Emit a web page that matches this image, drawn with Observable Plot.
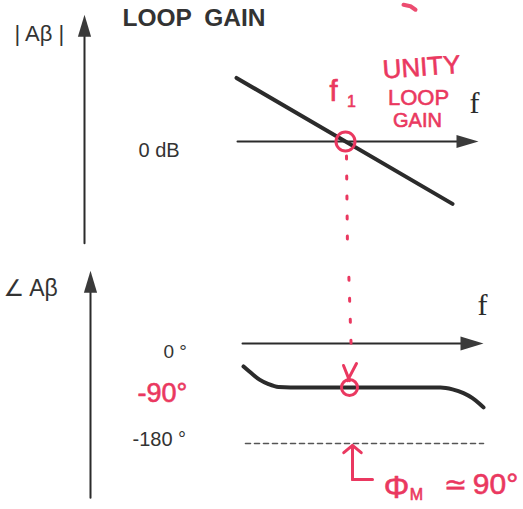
<!DOCTYPE html>
<html>
<head>
<meta charset="utf-8">
<script src="https://cdn.jsdelivr.net/npm/d3@7"></script>
<script src="https://cdn.jsdelivr.net/npm/@observablehq/plot@0.6"></script>
<style>
  html, body { margin: 0; padding: 0; background: #fff; }
  #chart { width: 523px; line-height: 0; }
  #chart svg { display: block; }
</style>
</head>
<body>
<div id="chart"></div>
<script>
// Frequency is expressed in decades relative to the unity-gain frequency f1: x = log10(f / f1)

// Loop-gain magnitude asymptote (-20 dB/decade through 0 dB at f1)
const magDecade = [-1.09, 1.07];
const magDb = [21.8, -21.4];

// Loop-gain phase (degrees)
const phaseDecade = [-1.02, -0.94, -0.86, -0.77, -0.67, -0.55, 0, 0.55, 0.95, 1.07, 1.18, 1.27, 1.34, 1.38];
const phaseDeg = [-47, -61, -74, -83, -89, -90, -90, -90, -90, -93, -99, -107, -116, -122];

// Axis extents
const gainAxisX = -2.61;           // |Aβ| axis position (decades)
const gainAxisDb = [-34.9, 43.5];   // bottom, arrow tip
const gainFreqAxis = [-1.08, 1.33]; // f axis at 0 dB
const phaseAxisX = -2.55;
const phaseAxisDeg = [-267, 149];
const phaseFreqAxis = [-1.03, 1.38];
const limitLine = [-1.0, 1.38];     // -180° reference

// Tick labels
const gainTickLabel = "0 dB";
const phaseTicks = [0, -90, -180];
const phaseTickLabels = ["0 °", "-90°", "-180 °"];

// Unity-gain crossing and phase margin
const f1Decade = 0;
const f1Phase = -90;
const phaseMargin = 180 + f1Phase;

const ink = "#2b2b2b";
const pen = "#ea3860";
const sans = "Liberation Sans, Arial, DejaVu Sans, sans-serif";
const serif = "Liberation Serif, Times New Roman, serif";
const marker = "Liberation Sans, DejaVu Sans, sans-serif";

// Filled arrowhead, tip at the origin, pointing up (rotate for other directions)
const arrowHead = {
  draw(ctx, size) {
    const r = Math.sqrt(size / Math.PI);
    ctx.moveTo(0, 0);
    ctx.lineTo(r * 0.6, r * 2);
    ctx.lineTo(-r * 0.6, r * 2);
    ctx.closePath();
  }
};

const xScale = {type: "linear", domain: [0, 1], range: [345, 445], axis: null};
const label = (x, y, t, o = {}) =>
  Plot.text([{x, y, t}], {x: "x", y: "y", text: "t", ...o});

// ---- Magnitude panel ----
const gainPlot = Plot.plot({
  width: 523,
  height: 250,
  margin: 0,
  x: xScale,
  y: {type: "linear", domain: [0, 20], range: [141, 82.7], axis: null},
  style: {background: "white"},
  marks: [
    Plot.line([[gainAxisX, gainAxisDb[0]], [gainAxisX, gainAxisDb[1] - 5]], {stroke: ink, strokeWidth: 2}),
    Plot.dot([[gainAxisX, gainAxisDb[1]]], {symbol: arrowHead, r: 11, fill: "#3a3a3a", stroke: "none"}),
    Plot.line([[gainFreqAxis[0], 0], [gainFreqAxis[1] - 0.1, 0]], {stroke: ink, strokeWidth: 2}),
    Plot.dot([[gainFreqAxis[1], 0]], {symbol: arrowHead, r: 11, rotate: 90, fill: "#3a3a3a", stroke: "none"}),
    Plot.line(magDecade.map((x, i) => [x, magDb[i]]), {stroke: ink, strokeWidth: 4}),
    // unity-gain marker and drop line
    Plot.line([[f1Decade + 0.01, -5], [f1Decade + 0.02, -37.3]], {stroke: pen, strokeWidth: 3, strokeDasharray: "3,17", strokeLinecap: "round"}),
    Plot.dot([[f1Decade, 0]], {r: 9.5, stroke: pen, strokeWidth: 3, fill: "none"}),
    // texts
    label(-2.23, 42.3, "LOOP\u2002GAIN", {textAnchor: "start", fontFamily: sans, fontWeight: "bold", fontSize: 24.5, fill: "#333", letterSpacing: 0.6}),
    label(-3.31, 36.8, "| Aβ |", {textAnchor: "start", fontFamily: sans, fontSize: 22, fill: "#333"}),
    label(-2.07, 0, gainTickLabel, {textAnchor: "start", dy: 9, fontFamily: sans, fontSize: 20, fill: "#333"}),
    label(1.29, 13.0, "f", {fontFamily: serif, fontSize: 30, fill: ink}),
    label(-0.12, 17.2, "f", {fontFamily: marker, fontSize: 29, fill: pen, stroke: pen, strokeWidth: 0.7}),
    label(0.06, 13.6, "1", {fontFamily: marker, fontSize: 16, fill: pen, stroke: pen, strokeWidth: 0.6}),
    label(0.76, 25.4, "UNITY", {fontFamily: marker, fontSize: 26, fill: pen, stroke: pen, strokeWidth: 0.6, rotate: -4}),
    label(0.73, 15.1, "LOOP", {fontFamily: marker, fontSize: 22, fill: pen, stroke: pen, strokeWidth: 0.6}),
    label(0.72, 7.2, "GAIN", {fontFamily: marker, fontSize: 20, fill: pen, stroke: pen, strokeWidth: 0.6}),
    Plot.line([[0.58, 46.9], [0.65, 46.4], [0.70, 45.2]], {stroke: pen, strokeWidth: 4, strokeLinecap: "round", strokeOpacity: 0.9})
  ]
});

// ---- Phase panel ----
const phasePlot = Plot.plot({
  width: 523,
  height: 259,
  margin: 0,
  x: xScale,
  y: {type: "linear", domain: [0, -90, -180], range: [93, 137, 193], axis: null},
  style: {background: "white"},
  marks: [
    Plot.line([[phaseAxisX, phaseAxisDeg[0]], [phaseAxisX, phaseAxisDeg[1] - 20]], {stroke: ink, strokeWidth: 2}),
    Plot.dot([[phaseAxisX, phaseAxisDeg[1]]], {symbol: arrowHead, r: 11, fill: "#3a3a3a", stroke: "none"}),
    Plot.line([[phaseFreqAxis[0], 0], [phaseFreqAxis[1] - 0.1, 0]], {stroke: ink, strokeWidth: 2}),
    Plot.dot([[phaseFreqAxis[1], 0]], {symbol: arrowHead, r: 11.5, rotate: 90, fill: "#3a3a3a", stroke: "none"}),
    Plot.line([[limitLine[0], -180], [limitLine[1], -180]], {stroke: "#555", strokeWidth: 1.6, strokeDasharray: "5,4"}),
    Plot.line(phaseDecade.map((x, i) => [x, phaseDeg[i]]), {stroke: ink, strokeWidth: 4, curve: "monotone-x"}),
    // drop line from f1 and marker at the phase curve
    Plot.line([[f1Decade + 0.03, 160], [f1Decade + 0.06, -29]], {stroke: pen, strokeWidth: 3, strokeDasharray: "3,18", strokeDashoffset: 9, strokeLinecap: "round"}),
    Plot.dot([[f1Decade + 0.04, f1Phase]], {r: 8, stroke: pen, strokeWidth: 3, fill: "none"}),
    Plot.link([{x1: -0.02, y1: -45, x2: 0.04, y2: -76}, {x1: 0.11, y1: -41, x2: 0.02, y2: -76}],
      {x1: "x1", y1: "y1", x2: "x2", y2: "y2", stroke: pen, strokeWidth: 3, strokeLinecap: "round"}),
    // phase margin arrow
    Plot.arrow([{x1: 0.07, y1: -238, x2: 0.07, y2: -183}],
      {x1: "x1", y1: "y1", x2: "x2", y2: "y2", stroke: pen, strokeWidth: 3, headLength: 14, headAngle: 100, strokeLinecap: "round"}),
    Plot.line([[0.07, -238], [0.27, -238]], {stroke: pen, strokeWidth: 3, strokeLinecap: "round"}),
    // texts
    label(-3.42, 112, "∠ Aβ", {textAnchor: "start", fontFamily: sans, fontSize: 23, fill: "#333"}),
    label(1.37, 78, "f", {fontFamily: serif, fontSize: 30, fill: ink}),
    label(-1.82, phaseTicks[0], phaseTickLabels[0], {textAnchor: "start", dy: 8, fontFamily: sans, fontSize: 19, fill: "#333"}),
    label(-2.08, phaseTicks[1], phaseTickLabels[1], {textAnchor: "start", dy: 6, fontFamily: marker, fontSize: 27, fill: pen, stroke: pen, strokeWidth: 0.6, letterSpacing: 2.5}),
    label(-2.13, phaseTicks[2], phaseTickLabels[2], {textAnchor: "start", dy: -4, fontFamily: sans, fontSize: 20, fill: "#333"}),
    label(0.51, -251, "Φ", {fontFamily: marker, fontSize: 32, fill: pen, stroke: pen, strokeWidth: 0.6}),
    label(0.71, -262, "M", {fontFamily: marker, fontSize: 16, fill: pen, stroke: pen, strokeWidth: 0.6}),
    label(1.10, -246, "≃", {fontFamily: marker, fontSize: 28, fill: pen, stroke: pen, strokeWidth: 0.4}),
    label(1.50, -246, `${phaseMargin}°`, {fontFamily: marker, fontSize: 30, fill: pen, stroke: pen, strokeWidth: 0.6})
  ]
});

const chart = document.getElementById("chart");
chart.append(gainPlot, phasePlot);
</script>
</body>
</html>
